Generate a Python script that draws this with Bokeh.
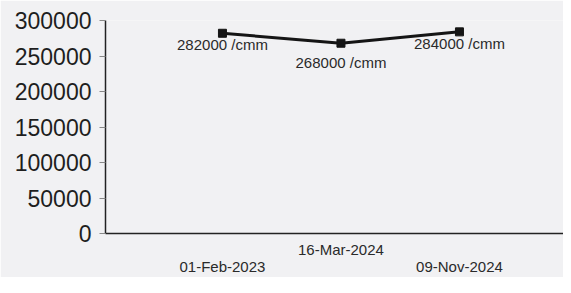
from bokeh.plotting import figure
from bokeh.models import FixedTicker, ColumnDataSource, Range1d, BasicTickFormatter
from bokeh.core.properties import value
from bokeh.embed import file_html
from bokeh.resources import INLINE

dates = ["01-Feb-2023", "16-Mar-2024", "09-Nov-2024"]
counts = [282000, 268000, 284000]
labels = ["282000 /cmm", "268000 /cmm", "284000 /cmm"]
y_ticks = [0, 50000, 100000, 150000, 200000, 250000, 300000]

label_offsets = [11, 19, 12]     # px below points for data labels

xs = list(range(len(dates)))
FONT = "Liberation Sans"
BG = "#f1f1f3"

p = figure(width=563, height=277, output_backend="svg", toolbar_location=None,
           x_range=Range1d(-0.987, 2.878), y_range=Range1d(0, 300000),
           min_border_left=105, min_border_right=0,
           min_border_top=20, min_border_bottom=44,
           background_fill_color=BG, border_fill_color=BG)
p.outline_line_color = None
p.grid.visible = False

# y axis
ya = p.yaxis[0]
ya.ticker = FixedTicker(ticks=y_ticks)
ya.formatter = BasicTickFormatter(use_scientific=False)
ya.minor_tick_line_color = None
ya.major_tick_out = 6
ya.major_tick_in = 0
ya.major_label_standoff = 8
ya.major_label_text_font = FONT
ya.major_label_text_font_size = "23px"
ya.major_label_text_color = "#1e1e1e"
ya.axis_line_color = "#222222"
ya.axis_line_width = 1.5
ya.major_tick_line_color = "#888888"

# x axis: staggered date labels (outer ones on a second line)
xa = p.xaxis[0]
xa.ticker = FixedTicker(ticks=xs)
xa.major_label_overrides = {x: (d if x % 2 else "\n" + d) for x, d in zip(xs, dates)}
xa.major_tick_line_color = None
xa.minor_tick_line_color = None
xa.major_tick_out = 0
xa.major_label_standoff = 7
xa.major_label_text_font = FONT
xa.major_label_text_font_size = "15px"
xa.major_label_text_color = "#2a2a2a"
xa.major_label_text_line_height = 1.0
xa.axis_line_color = "#222222"
xa.axis_line_width = 1.5

src = ColumnDataSource(dict(x=xs, y=counts, lab=labels, off=label_offsets))
p.line("x", "y", source=src, line_color="#151515", line_width=3)
p.scatter("x", "y", source=src, marker="square", size=8, color="#151515")
p.text("x", "y", text="lab", source=src, y_offset="off",
       text_align="center", text_baseline="middle",
       text_font=value(FONT), text_font_size="15px", text_color="#2a2a2a")

open("out.html", "w").write(file_html(p, INLINE))
